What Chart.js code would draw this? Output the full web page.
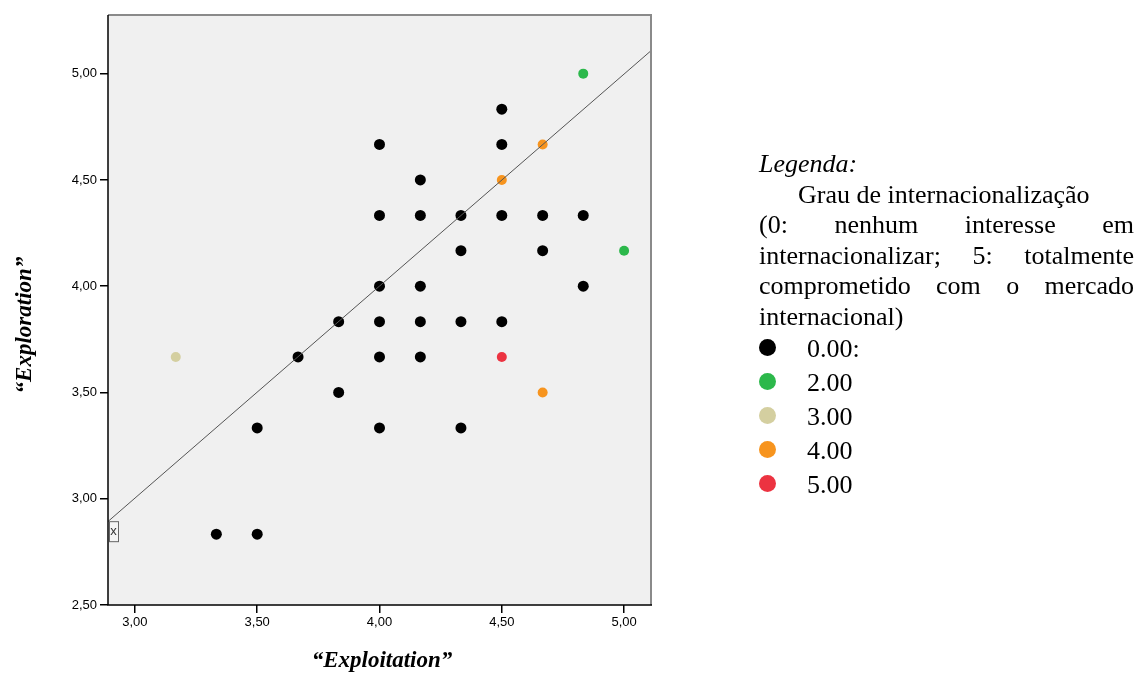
<!DOCTYPE html>
<html>
<head>
<meta charset="utf-8">
<script src="https://cdn.jsdelivr.net/npm/chart.js@4"></script>
<style>
  body { margin: 0; background: #fff; }
  #wrap { position: relative; width: 1138px; height: 673px; }
  #legend {
    position: absolute; left: 759px; top: 149px; width: 375px;
    font-family: "Liberation Serif", "Times New Roman", serif;
    font-size: 26px; line-height: 30.5px; color: #000;
  }
  #legend .j { text-align: justify; text-align-last: justify; }
  #legend .row { position: relative; height: 34px; line-height: 34px; }
  #legend .dot { position: absolute; left: 0; top: 7px; width: 17px; height: 17px; border-radius: 50%; }
  #legend .row span.t { margin-left: 48px; }
</style>
</head>
<body>
<div id="wrap">
  <canvas id="chart" width="1138" height="673"></canvas>
  <div id="legend">
    <div><i>Legenda:</i></div>
    <div style="text-indent:39px">Grau de internacionalização</div>
    <div class="j">(0: nenhum interesse em</div>
    <div class="j">internacionalizar; 5: totalmente</div>
    <div class="j">comprometido com o mercado</div>
    <div>internacional)</div>
    <div id="entries"></div>
  </div>
</div>
<script>
// grau de internacionalização
const groups = ["0.00:", "2.00", "3.00", "4.00", "5.00"];
const groupColors = ["#000000", "#2cb84b", "#d4cfa0", "#f7941e", "#ec3341"];

// Exploitation (x) / Exploration (y) per group
const exploitG0 = [3.333, 3.5, 3.5, 3.833, 3.667, 3.833, 4.0, 4.0, 4.0, 4.0, 4.0, 4.0,
  4.167, 4.167, 4.167, 4.167, 4.167, 4.333, 4.333, 4.333, 4.333, 4.5, 4.5, 4.5, 4.5,
  4.667, 4.667, 4.833, 4.833];
const exploreG0 = [2.833, 2.833, 3.333, 3.5, 3.667, 3.833, 4.667, 4.333, 4.0, 3.833, 3.667, 3.333,
  4.5, 4.333, 4.0, 3.833, 3.667, 4.333, 4.167, 3.833, 3.333, 4.833, 4.667, 4.333, 3.833,
  4.333, 4.167, 4.333, 4.0];
const exploitG2 = [4.833, 5.0];
const exploreG2 = [5.0, 4.167];
const exploitG3 = [3.167];
const exploreG3 = [3.667];
const exploitG4 = [4.667, 4.5, 4.667];
const exploreG4 = [4.667, 4.5, 3.5];
const exploitG5 = [4.5];
const exploreG5 = [3.667];

// fit line (linear), ends at plot edges
const fitX = [2.89, 5.11];
const fitY = [2.893, 5.108];

const xTicks = [3.0, 3.5, 4.0, 4.5, 5.0];
const yTicks = [2.5, 3.0, 3.5, 4.0, 4.5, 5.0];

const xTitle = "\u201cExploitation\u201d";
const yTitle = "\u201cExploration\u201d";

// legend entries
document.getElementById("entries").innerHTML = groups.map((g, i) =>
  `<div class="row"><span class="dot" style="background:${groupColors[i]}"></span><span class="t">${g}</span></div>`
).join("");

const pairs = (xs, ys) => xs.map((x, i) => ({ x: x, y: ys[i] }));
const groupData = [
  pairs(exploitG0, exploreG0),
  pairs(exploitG2, exploreG2),
  pairs(exploitG3, exploreG3),
  pairs(exploitG4, exploreG4),
  pairs(exploitG5, exploreG5),
];

const datasets = [{
  type: "line",
  label: "fit",
  data: pairs(fitX, fitY),
  borderColor: "#555",
  borderWidth: 1,
  pointRadius: 0,
  showLine: true,
  order: 0,
}];
groupData.forEach((d, i) => {
  datasets.push({
    label: groups[i],
    data: d,
    backgroundColor: groupColors[i],
    borderWidth: 0,
    pointRadius: i === 0 ? 5.5 : 5,
    order: 1,
  });
});

const fmt = (v) => v.toFixed(2).replace(".", ",");

const framePlugin = {
  id: "frame",
  beforeDatasetsDraw(chart) {
    const { ctx, chartArea: a } = chart;
    ctx.save();
    ctx.fillStyle = "#f0f0f0";
    ctx.fillRect(a.left, a.top, a.right - a.left, a.bottom - a.top);
    ctx.restore();
  },
  afterDatasetsDraw(chart) {
    const { ctx, chartArea: a, scales } = chart;
    ctx.save();
    ctx.strokeStyle = "#8a8a8a";
    ctx.lineWidth = 2;
    ctx.beginPath();
    ctx.moveTo(a.left, a.top); ctx.lineTo(a.right, a.top); ctx.lineTo(a.right, a.bottom);
    ctx.stroke();
    ctx.strokeStyle = "#000";
    ctx.lineWidth = 1.5;
    ctx.beginPath();
    ctx.moveTo(a.left, a.top); ctx.lineTo(a.left, a.bottom); ctx.lineTo(a.right + 1, a.bottom);
    ctx.stroke();

    // fit line label box
    const by = scales.y.getPixelForValue(2.845);
    ctx.fillStyle = "#f4f4f4";
    ctx.fillRect(a.left + 1, by - 10, 9, 20);
    ctx.strokeStyle = "#666";
    ctx.lineWidth = 1;
    ctx.strokeRect(a.left + 1.5, by - 10, 9, 20);
    ctx.fillStyle = "#333";
    ctx.font = "13px 'Liberation Sans', Arial, sans-serif";
    ctx.textAlign = "center";
    ctx.textBaseline = "middle";
    ctx.fillText("x", a.left + 5.5, by);

    // axis titles
    ctx.fillStyle = "#000";
    ctx.font = "bold italic 23px 'Liberation Serif', 'Times New Roman', serif";
    ctx.textAlign = "center";
    ctx.textBaseline = "alphabetic";
    ctx.fillText(xTitle, 382, 667);
    ctx.translate(31, 325);
    ctx.rotate(-Math.PI / 2);
    ctx.fillText(yTitle, 0, 0);
    ctx.restore();
  },
};

const tickFont = { family: "'Liberation Sans', Arial, sans-serif", size: 13 };

new Chart(document.getElementById("chart"), {
  type: "scatter",
  data: { datasets: datasets },
  options: {
    responsive: false,
    animation: false,
    layout: { padding: { top: 15, right: 487, left: 0, bottom: 0 } },
    plugins: { legend: { display: false }, tooltip: { enabled: false } },
    scales: {
      x: {
        type: "linear",
        min: 2.89,
        max: 5.11,
        afterBuildTicks: (s) => { s.ticks = xTicks.map((v) => ({ value: v })); },
        afterFit: (s) => { s.height = 68; },
        ticks: { color: "#000", font: tickFont, padding: 2, callback: (v) => fmt(v), maxRotation: 0, autoSkip: false },
        grid: { drawOnChartArea: false, drawTicks: true, tickLength: 8, color: "#000", lineWidth: 1.5 },
        border: { display: false },
      },
      y: {
        type: "linear",
        min: 2.5,
        max: 5.276,
        afterBuildTicks: (s) => { s.ticks = yTicks.map((v) => ({ value: v })); },
        afterFit: (s) => { s.width = 108; },
        ticks: { color: "#000", font: tickFont, padding: 3, callback: (v) => fmt(v), autoSkip: false },
        grid: { drawOnChartArea: false, drawTicks: true, tickLength: 8, color: "#000", lineWidth: 1.5 },
        border: { display: false },
      },
    },
  },
  plugins: [framePlugin],
});
</script>
</body>
</html>
